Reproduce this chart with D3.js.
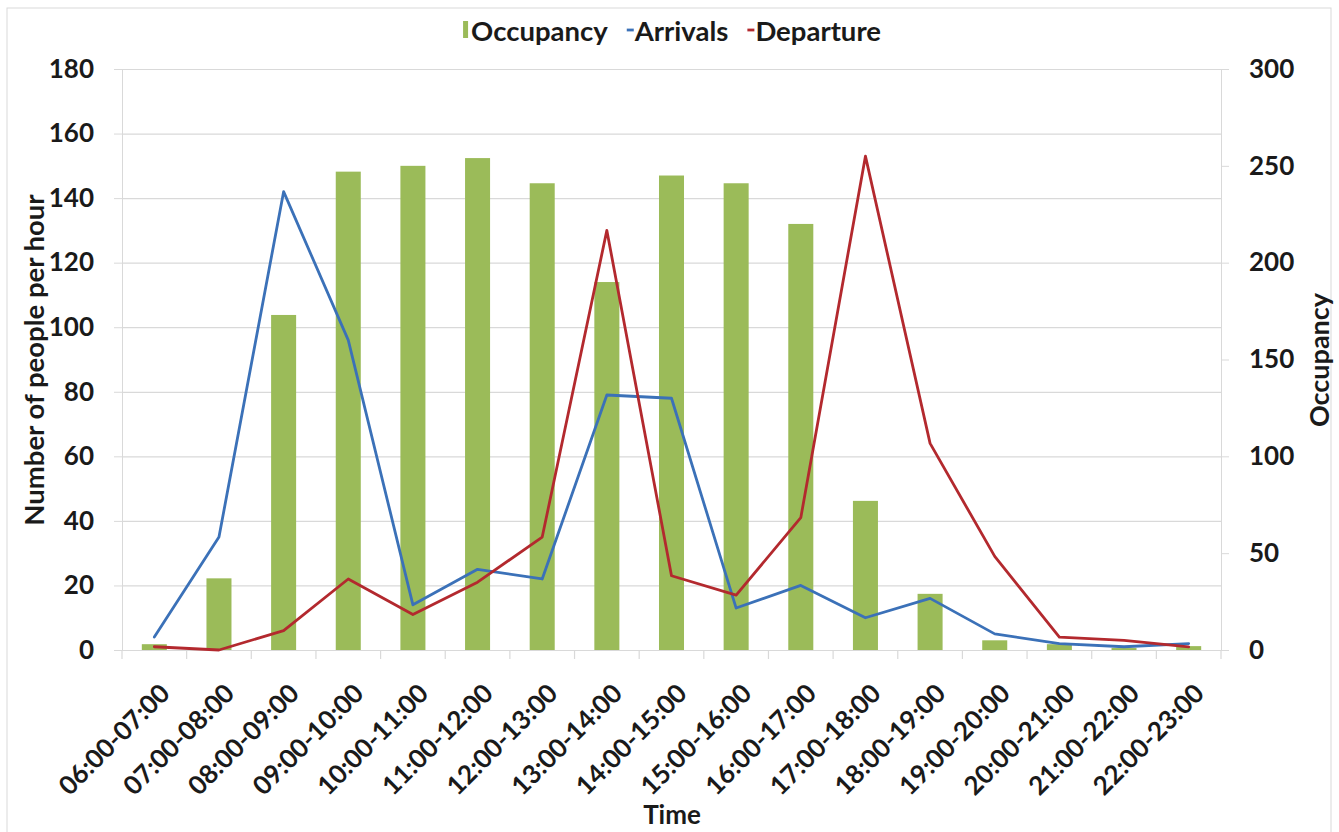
<!DOCTYPE html>
<html><head><meta charset="utf-8">
<script src="https://cdn.jsdelivr.net/npm/d3@7"></script>
<style>
body{margin:0;background:#fff;}
svg text{font-family:Lato,'Open Sans',sans-serif;font-weight:bold;fill:#1a1a1a;}
</style>
</head><body>
<svg id="c" width="1339" height="832"></svg>
<script>
const categories=["06:00-07:00","07:00-08:00","08:00-09:00","09:00-10:00","10:00-11:00","11:00-12:00","12:00-13:00","13:00-14:00","14:00-15:00","15:00-16:00","16:00-17:00","17:00-18:00","18:00-19:00","19:00-20:00","20:00-21:00","21:00-22:00","22:00-23:00"];
const occupancy=[3,37,173,247,250,254,241,190,245,241,220,77,29,5,3,1,2];
const arrivals=[4,35,142,96,14,25,22,79,78,13,20,10,16,5,2,1,2];
const departure=[1,0,6,22,11,21,35,130,23,17,41,153,64,29,4,3,1];
const leftTicks=[0,20,40,60,80,100,120,140,160,180];
const rightTicks=[0,50,100,150,200,250,300];
const seriesNames=["Occupancy","Arrivals","Departure"];

const GREEN="#9bbb59",BLUE="#3b71b8",RED="#b3292e",GRID="#d9d9d9";
const svg=d3.select("#c");
const m={l:122,r:1221,t:69,b:650};

svg.append("rect").attr("x",7).attr("y",8).attr("width",1324).attr("height",840)
  .attr("fill","#fff").attr("stroke","#d9d9d9").attr("stroke-width",1);

const x=d3.scaleBand().domain(categories).range([m.l,m.r]).paddingInner(0.613).paddingOuter(0.3065);
const yL=d3.scaleLinear().domain([0,180]).range([m.b,m.t]);
const yR=d3.scaleLinear().domain([0,300]).range([m.b,m.t]);
const bw=x.bandwidth();
const cx=d=>x(d)+bw/2;

// gridlines
const grid=svg.append("g").attr("transform",`translate(${m.l},0)`)
  .call(d3.axisLeft(yL).tickValues(leftTicks).tickSize(-(m.r-m.l)).tickFormat(""));
grid.select(".domain").remove();
grid.selectAll("line").attr("stroke",GRID).attr("stroke-width",1.2);

// left axis
const gl=svg.append("g").attr("transform",`translate(${m.l},0)`)
  .call(d3.axisLeft(yL).tickValues(leftTicks).tickSize(8).tickSizeOuter(0).tickPadding(20));
gl.select(".domain").attr("stroke",GRID);
gl.selectAll("line").attr("stroke",GRID);
gl.selectAll("text").style("font-size","26px");

// right axis
const gr=svg.append("g").attr("transform",`translate(${m.r},0)`)
  .call(d3.axisRight(yR).tickValues(rightTicks).tickSize(8).tickSizeOuter(0).tickPadding(20));
gr.select(".domain").attr("stroke",GRID);
gr.selectAll("line").attr("stroke",GRID);
gr.selectAll("text").style("font-size","26px");

// x axis baseline + boundary ticks
const gx=svg.append("g").attr("transform",`translate(0,${m.b})`)
  .call(d3.axisBottom(x).tickSize(0).tickFormat(""));
gx.select(".domain").attr("stroke",GRID);
const half=(x.step()-bw)/2;
const bounds=categories.map(d=>x(d)-half).concat([x(categories[categories.length-1])+bw+half]);
svg.append("g").selectAll("line").data(bounds).join("line")
  .attr("x1",d=>d).attr("x2",d=>d).attr("y1",m.b).attr("y2",m.b+9)
  .attr("stroke",GRID).attr("stroke-width",1.2);

// x labels
svg.append("g").selectAll("text").data(categories).join("text")
  .attr("transform",d=>`translate(${cx(d)+17},695) rotate(-45)`)
  .attr("text-anchor","end").style("font-size","26px").text(d=>d);

// bars
svg.append("g").selectAll("rect").data(occupancy).join("rect")
  .attr("x",(d,i)=>x(categories[i])).attr("y",d=>yR(d))
  .attr("width",bw).attr("height",d=>m.b-yR(d)).attr("fill",GREEN);

// lines
const line=d3.line().x((d,i)=>cx(categories[i])).y(d=>yL(d));
svg.append("path").datum(arrivals).attr("d",line).attr("fill","none")
  .attr("stroke",BLUE).attr("stroke-width",2.8).attr("stroke-linejoin","round").attr("stroke-linecap","round");
svg.append("path").datum(departure).attr("d",line).attr("fill","none")
  .attr("stroke",RED).attr("stroke-width",2.8).attr("stroke-linejoin","round").attr("stroke-linecap","round");

// axis titles
svg.append("text").attr("transform","translate(33,360) rotate(-90)").attr("text-anchor","middle")
  .attr("dominant-baseline","central").style("font-size","27.5px").text("Number of people per hour");
svg.append("text").attr("transform","translate(1318,360) rotate(-90)").attr("text-anchor","middle")
  .attr("dominant-baseline","central").style("font-size","27px").text("Occupancy");
svg.append("text").attr("x",672).attr("y",824).attr("text-anchor","middle")
  .style("font-size","26px").text("Time");

// legend
const leg=svg.append("g");
const colors=[GREEN,BLUE,RED];
let pos=0;
seriesNames.forEach((n,i)=>{
  const g=leg.append("g").attr("transform",`translate(${pos},0)`);
  if(i===0){
    g.append("rect").attr("x",0).attr("y",-9).attr("width",5).attr("height",17).attr("fill",colors[i]);
  }else{
    g.append("line").attr("x1",0).attr("x2",7).attr("y1",0).attr("y2",0).attr("stroke",colors[i]).attr("stroke-width",2.8);
  }
  const t=g.append("text").attr("x",8).attr("y",0).attr("dominant-baseline","central")
    .style("font-size","27.5px").text(n);
  const w=t.node().getComputedTextLength();
  pos+=8+w+19;
});
const total=pos-19;
leg.attr("transform",`translate(${672-total/2},30)`);
</script>
</body></html>
